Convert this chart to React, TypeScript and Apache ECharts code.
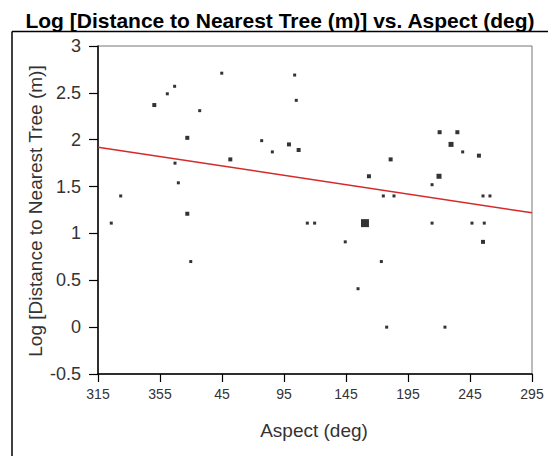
import React, { useEffect, useRef } from "react";
import * as echarts from "echarts";

// x positions read on the chart's aspect axis (0..350 axis units, ticks every 50)
const aspectTickLabels = ["315", "355", "45", "95", "145", "195", "245", "295"];
const aspectPos = [
  10.7, 18.3, 45.4, 55.9, 61.8, 62.1, 64.8, 72.0, 72.0, 74.8, 82.0, 99.8, 106.7,
  132.0, 140.6, 154.0, 158.6, 159.9, 161.8, 168.8, 174.7, 199.4, 209.7, 215.3,
  218.5, 228.5, 230.1, 232.8, 236.0, 238.7, 269.4, 269.4, 275.0, 275.5, 279.8,
  284.7, 289.8, 294.1, 301.6, 307.2, 310.5, 310.5, 311.5, 316.1,
];
const logDist = [
  1.11, 1.4, 2.37, 2.49, 2.57, 1.75, 1.54, 2.02, 1.21, 0.7, 2.31, 2.71, 1.79,
  1.99, 1.87, 1.95, 2.69, 2.42, 1.89, 1.11, 1.11, 0.91, 0.41, 1.11, 1.61, 0.7,
  1.4, 0.0, 1.79, 1.4, 1.52, 1.11, 1.61, 2.08, 0.0, 1.95, 2.08, 1.87, 1.11, 1.83,
  1.4, 0.91, 1.11, 1.4,
];
// relative marker weight (overlapping points)
const weights = [
  1, 1, 2, 1, 1, 1, 1, 2, 2, 1, 1, 1, 2, 1, 1, 2, 1, 1, 2, 1, 1, 1, 1, 6, 2, 1,
  1, 1, 2, 1, 1, 1, 3, 2, 1, 3, 2, 1, 1, 2, 1, 2, 1, 1,
];
const fitX = [0, 350];
const fitY = [1.92, 1.22];

const sizeFor = (w: number) => (w >= 6 ? 8 : w >= 3 ? 5 : w >= 2 ? 4 : 3);

export default function App() {
  const ref = useRef<HTMLDivElement>(null);
  useEffect(() => {
    if (!ref.current) return;
    const chart = echarts.init(ref.current, undefined, { renderer: "svg" });
    const font = "'Liberation Sans', Arial, sans-serif";
    chart.setOption({
      animation: false,
      backgroundColor: "#fff",
      grid: {
        left: 98,
        right: 20,
        top: 46,
        bottom: 82,
        show: true,
        borderColor: "#777",
        borderWidth: 1,
      },
      xAxis: {
        type: "value",
        min: 0,
        max: 350,
        interval: 50,
        splitLine: { show: false },
        axisLine: { show: true, onZero: false, lineStyle: { color: "#000", width: 1.5 } },
        axisTick: { show: true, length: 8, lineStyle: { color: "#000", width: 1.2 } },
        axisLabel: {
          margin: 13,
          fontSize: 14,
          fontFamily: font,
          color: "#333",
          formatter: (v: number) => aspectTickLabels[Math.round(v / 50)] ?? "",
        },
      },
      yAxis: {
        type: "value",
        min: -0.5,
        max: 3,
        interval: 0.5,
        splitLine: { show: false },
        axisLine: { show: true, onZero: false, lineStyle: { color: "#000", width: 1.5 } },
        axisTick: { show: true, length: 9, lineStyle: { color: "#000", width: 1.2 } },
        axisLabel: {
          margin: 17,
          fontSize: 18,
          fontFamily: font,
          color: "#333",
        },
      },
      graphic: [
        {
          type: "text",
          x: 280,
          y: 20,
          style: {
            text: "Log [Distance to Nearest Tree (m)] vs. Aspect (deg)",
            fontSize: 21,
            fontWeight: "bold",
            fontFamily: font,
            fill: "#000",
            align: "center",
            verticalAlign: "middle",
          },
        },
        {
          type: "line",
          shape: { x1: 12, y1: 31.5, x2: 548, y2: 31.5 },
          style: { stroke: "#000", lineWidth: 1.5 },
        },
        {
          type: "line",
          shape: { x1: 12, y1: 31.5, x2: 12, y2: 460 },
          style: { stroke: "#000", lineWidth: 1.5 },
        },
        {
          type: "text",
          x: 35,
          y: 211,
          rotation: Math.PI / 2,
          style: {
            text: "Log [Distance to Nearest Tree (m)]",
            fontSize: 19,
            fontFamily: font,
            fill: "#333",
            align: "center",
            verticalAlign: "middle",
          },
        },
        {
          type: "text",
          x: 314,
          y: 430,
          style: {
            text: "Aspect (deg)",
            fontSize: 19,
            fontFamily: font,
            fill: "#333",
            align: "center",
            verticalAlign: "middle",
          },
        },
      ],
      series: [
        {
          type: "line",
          data: fitX.map((x, i) => [x, fitY[i]]),
          symbol: "none",
          lineStyle: { color: "#d42a2a", width: 1.5 },
          z: 2,
        },
        {
          type: "scatter",
          symbol: "rect",
          data: aspectPos.map((x, i) => ({
            value: [x, logDist[i]],
            symbolSize: sizeFor(weights[i]),
          })),
          itemStyle: { color: "#000" },
          z: 3,
        },
      ],
    });
    return () => chart.dispose();
  }, []);
  return <div ref={ref} style={{ width: 552, height: 456, position: "absolute", left: 0, top: 0 }} />;
}
